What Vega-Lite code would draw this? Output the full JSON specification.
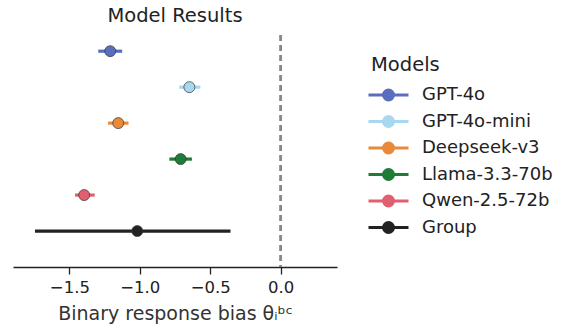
{
  "$schema": "https://vega.github.io/schema/vega-lite/v6.json",
  "autosize": {"type": "none"},
  "padding": {"left": 13, "top": 35, "right": 225, "bottom": 64},
  "width": 324,
  "height": 232,
  "background": "white",
  "config": {
    "view": {"stroke": null},
    "font": "DejaVu Sans"
  },
  "title": {
    "text": "Model Results",
    "fontSize": 19.5,
    "fontWeight": "normal",
    "font": "DejaVu Sans",
    "color": "#222222",
    "anchor": "middle",
    "offset": 8
  },
  "data": {
    "values": [
      {"model": "GPT-4o", "idx": 0, "mean": -1.21, "lo": -1.295, "hi": -1.125},
      {"model": "GPT-4o-mini", "idx": 1, "mean": -0.648, "lo": -0.72, "hi": -0.57},
      {"model": "Deepseek-v3", "idx": 2, "mean": -1.153, "lo": -1.225, "hi": -1.08},
      {"model": "Llama-3.3-70b", "idx": 3, "mean": -0.71, "lo": -0.79, "hi": -0.63},
      {"model": "Qwen-2.5-72b", "idx": 4, "mean": -1.395, "lo": -1.46, "hi": -1.32},
      {"model": "Group", "idx": 5, "mean": -1.018, "lo": -1.744, "hi": -0.356}
    ]
  },
  "layer": [
    {
      "mark": {"type": "rule", "strokeDash": [6, 4], "color": "#888888", "strokeWidth": 1.8},
      "encoding": {"x": {"datum": 0, "type": "quantitative"}}
    },
    {
      "mark": {"type": "rule", "strokeWidth": 3.2},
      "encoding": {
        "x": {
          "field": "lo",
          "type": "quantitative",
          "scale": {"domain": [-1.9, 0.4], "nice": false, "zero": false},
          "axis": {
            "values": [-1.5, -1.0, -0.5, 0.0],
            "format": ".1f",
            "grid": false,
            "domainColor": "#222222",
            "domainWidth": 1.3,
            "tickColor": "#222222",
            "tickWidth": 1.3,
            "tickSize": 7,
            "labelFontSize": 16.5,
            "labelColor": "#222222",
            "labelPadding": 5,
            "labelFont": "DejaVu Sans",
            "title": "Binary response bias θᵢᵇᶜ",
            "titleFontSize": 19,
            "titleFontWeight": "normal",
            "titleFont": "DejaVu Sans",
            "titleColor": "#333333",
            "titlePadding": 9
          }
        },
        "x2": {"field": "hi"},
        "y": {
          "field": "idx",
          "type": "quantitative",
          "scale": {"domain": [-0.45, 6], "reverse": true, "nice": false, "zero": false},
          "axis": null
        },
        "color": {
          "field": "model",
          "type": "nominal",
          "scale": {
            "domain": ["GPT-4o", "GPT-4o-mini", "Deepseek-v3", "Llama-3.3-70b", "Qwen-2.5-72b", "Group"],
            "range": ["#5A6DBE", "#A8D8EF", "#E88A3A", "#1E7B38", "#E0606F", "#222222"]
          },
          "legend": {
            "title": "Models",
            "titleFontSize": 19.5,
            "titleFontWeight": "normal",
            "titleFont": "DejaVu Sans",
            "titleColor": "#222222",
            "titlePadding": 8,
            "labelFontSize": 18,
            "labelFont": "DejaVu Sans",
            "labelColor": "#222222",
            "symbolType": "M-2,0H2M-0.5,0A0.5,0.5 0 1,1 0.5,0A0.5,0.5 0 1,1 -0.5,0Z",
            "symbolSize": 400,
            "symbolStrokeWidth": 3,
            "symbolOffset": 6,
            "labelOffset": 22,
            "rowPadding": 3.5,
            "orient": "none",
            "legendX": 358,
            "legendY": 21,
            "encode": {
              "symbols": {
                "update": {
                  "fill": {"scale": "color", "field": "value"},
                  "stroke": {"scale": "color", "field": "value"},
                  "fillOpacity": {"value": 1}
                }
              }
            }
          }
        }
      }
    },
    {
      "mark": {"type": "point", "shape": "circle", "filled": true, "size": 121, "stroke": "#333333", "strokeWidth": 0.7, "opacity": 1},
      "encoding": {
        "x": {"field": "mean", "type": "quantitative"},
        "y": {"field": "idx", "type": "quantitative"},
        "color": {"field": "model", "type": "nominal"}
      }
    }
  ]
}
